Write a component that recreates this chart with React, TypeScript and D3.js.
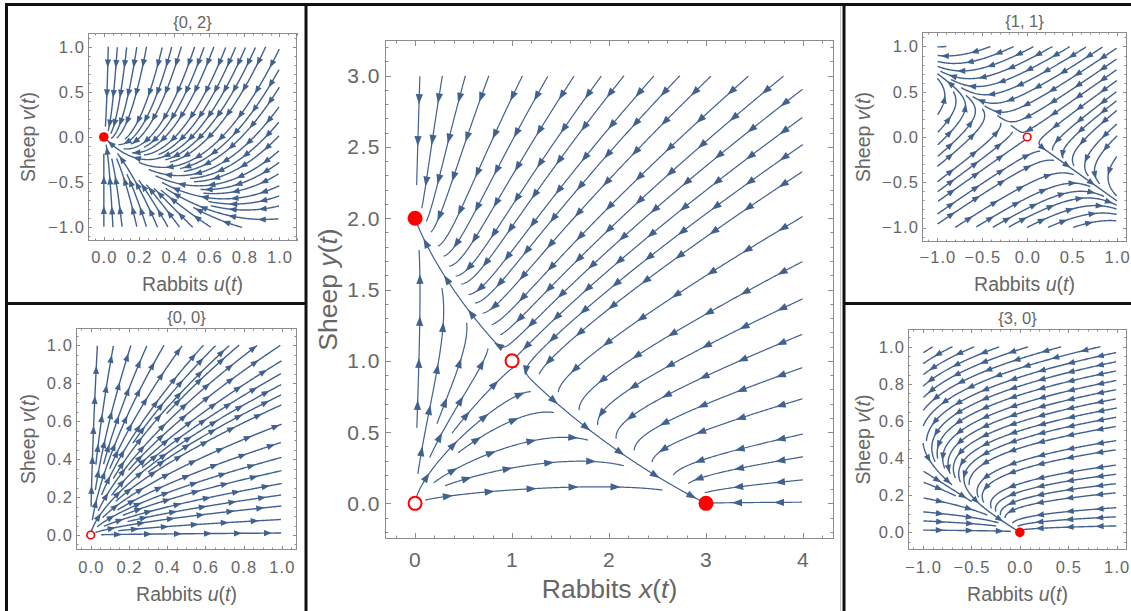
import React, { useRef, useEffect } from 'react';
import * as d3 from 'd3';

// competition model: x' = x (a0 - a1 x - a2 y),  y' = y (b0 - b1 x - b2 y)
const rabbitCoef = [3, 1, 2];
const sheepCoef = [2, 1, 1];

// linearised systems (Jacobian) at each equilibrium
const jacobian02 = [[-1, 0], [-2, -2]];
const jacobian00 = [[3, 0], [0, 2]];
const jacobian11 = [[-1, -2], [-1, -1]];
const jacobian30 = [[-3, -6], [0, -1]];

const equilibria = [[0, 0], [0, 2], [1, 1], [3, 0]];
const equilibriumStable = [false, true, false, true];

const mainXTicks = [0, 1, 2, 3, 4];
const mainYTicks = [0, 0.5, 1, 1.5, 2, 2.5, 3];
const unitTicks = [0, 0.2, 0.4, 0.6, 0.8, 1];
const symTicks = [-1, -0.5, 0, 0.5, 1];
const panelTitles = ['{0, 2}', '{0, 0}', '{1, 1}', '{3, 0}'];

const STREAM = '#41618f';
const TEXT = '#666666';
const FONT = "'Liberation Sans', Arial, sans-serif";

type Field = (u: number, v: number) => number[];

const model: Field = (x, y) => [
    x * (rabbitCoef[0] - rabbitCoef[1] * x - rabbitCoef[2] * y),
    y * (sheepCoef[0] - sheepCoef[1] * x - sheepCoef[2] * y),
];
const linear = (J: number[][]): Field => (u, v) => [
    J[0][0] * u + J[0][1] * v,
    J[1][0] * u + J[1][1] * v,
];

// evenly spaced streamlines (Jobard-Lefer style), worked out in pixel space
function buildStreams(field: Field, xs: any, ys: any, region: number[][], dSep: number, sinkData: number[][], sinkR: number, minLen: number) {
    const dTest = dSep * 0.4;
    const h = 1;
    const kx = xs(1) - xs(0);
    const ky = ys(0) - ys(1);
    const bx0 = xs(region[0][0]), bx1 = xs(region[0][1]);
    const by0 = ys(region[1][1]), by1 = ys(region[1][0]);
    const sinks = sinkData.map(s => [xs(s[0]), ys(s[1])]);
    const cell = dSep;
    const grid = new Map<number, number[][]>();
    const add = (x: number, y: number, id: number) => {
        const k = Math.floor(x / cell) * 4096 + Math.floor(y / cell);
        let a = grid.get(k);
        if (!a) { a = []; grid.set(k, a); }
        a.push([x, y, id]);
    };
    const near = (x: number, y: number, r: number, id: number) => {
        const gi = Math.floor(x / cell), gj = Math.floor(y / cell);
        const n = Math.ceil(r / cell);
        for (let i = gi - n; i <= gi + n; i++) {
            for (let j = gj - n; j <= gj + n; j++) {
                const a = grid.get(i * 4096 + j);
                if (!a) continue;
                for (const q of a) {
                    if (q[2] !== id && (q[0] - x) ** 2 + (q[1] - y) ** 2 < r * r) return true;
                }
            }
        }
        return false;
    };
    const inside = (x: number, y: number) => x >= bx0 && x <= bx1 && y >= by0 && y <= by1;
    const dir = (x: number, y: number) => {
        const f = field(xs.invert(x), ys.invert(y));
        const vx = f[0] * kx, vy = -f[1] * ky;
        const m = Math.hypot(vx, vy);
        return m < 1e-10 ? null : [vx / m, vy / m];
    };
    const atSink = (x: number, y: number, r: number) => sinks.some(s => Math.hypot(x - s[0], y - s[1]) < r);

    const half = (sx: number, sy: number, sign: number, id: number) => {
        const out: number[][] = [];
        let x = sx, y = sy;
        const s = sign * h;
        for (let n = 0; n < 3000; n++) {
            const k1 = dir(x, y); if (!k1) break;
            const k2 = dir(x + s / 2 * k1[0], y + s / 2 * k1[1]); if (!k2) break;
            const k3 = dir(x + s / 2 * k2[0], y + s / 2 * k2[1]); if (!k3) break;
            const k4 = dir(x + s * k3[0], y + s * k3[1]); if (!k4) break;
            if (k1[0] * k4[0] + k1[1] * k4[1] < 0) break;
            const nx = x + s / 6 * (k1[0] + 2 * k2[0] + 2 * k3[0] + k4[0]);
            const ny = y + s / 6 * (k1[1] + 2 * k2[1] + 2 * k3[1] + k4[1]);
            if (!inside(nx, ny)) break;
            if (atSink(nx, ny, sinkR) || near(nx, ny, dTest, id)) break;
            out.push([nx, ny]);
            x = nx; y = ny;
        }
        return out;
    };

    const lines: number[][][] = [];
    const queue: number[][][] = [];
    const trace = (sx: number, sy: number) => {
        const id = lines.length;
        const back = half(sx, sy, -1, id);
        const fwd = half(sx, sy, 1, id);
        const pts = back.reverse().concat([[sx, sy]], fwd);
        if (pts.length * h < minLen) return false;
        pts.forEach(p => add(p[0], p[1], id));
        lines.push(pts);
        queue.push(pts);
        return true;
    };
    const trySeed = (x: number, y: number) => {
        if (!inside(x, y) || atSink(x, y, dSep * 0.5) || near(x, y, dSep, -1)) return;
        trace(x, y);
    };
    const drain = () => {
        while (queue.length) {
            const pts = queue.shift()!;
            for (let i = 2; i < pts.length - 2; i += 3) {
                const tx = pts[i + 1][0] - pts[i - 1][0], ty = pts[i + 1][1] - pts[i - 1][1];
                const m = Math.hypot(tx, ty) || 1;
                const nx = -ty / m, ny = tx / m;
                trySeed(pts[i][0] + nx * dSep, pts[i][1] + ny * dSep);
                trySeed(pts[i][0] - nx * dSep, pts[i][1] - ny * dSep);
            }
        }
    };
    trySeed((bx0 + bx1) / 2, (by0 + by1) / 2);
    drain();
    for (let y = by0; y <= by1; y += dSep / 2) {
        for (let x = bx0; x <= bx1; x += dSep / 2) {
            trySeed(x, y);
            drain();
        }
    }
    return lines;
}

function arrowHeads(pts: number[][], gap: number, len: number, hw: number) {
    const cum = [0];
    for (let i = 1; i < pts.length; i++) {
        cum.push(cum[i - 1] + Math.hypot(pts[i][0] - pts[i - 1][0], pts[i][1] - pts[i - 1][1]));
    }
    const total = cum[cum.length - 1];
    const out: number[][][] = [];
    if (total < len * 1.6) return out;
    let next = Math.min(gap * 0.5, total / 2);
    for (let i = 1; i < pts.length; i++) {
        if (cum[i] < next) continue;
        if (total - cum[i] < len * 0.6) break;
        const a = pts[Math.max(0, i - 3)], b = pts[Math.min(pts.length - 1, i + 3)];
        const m = Math.hypot(b[0] - a[0], b[1] - a[1]) || 1;
        const tx = (b[0] - a[0]) / m, ty = (b[1] - a[1]) / m;
        const p = pts[i];
        const tip = [p[0] + tx * len * 0.6, p[1] + ty * len * 0.6];
        const base = [p[0] - tx * len * 0.4, p[1] - ty * len * 0.4];
        out.push([tip, [base[0] - ty * hw, base[1] + tx * hw], [base[0] + ty * hw, base[1] - tx * hw]]);
        next += gap;
    }
    return out;
}

const panels = [
    {
        title: null, field: model, box: [385, 40, 834, 539], xDom: [-0.31, 4.32], yDom: [-0.25, 3.25],
        region: [[0, 4], [0, 3]], xTicks: mainXTicks, yTicks: mainYTicks, xFmt: d3.format('d'), yFmt: d3.format('.1f'),
        xMinor: 0.2, yMinor: 0.1, pts: equilibria, stable: equilibriumStable, xVar: 'x', yVar: 'y', big: true,
        xTickY: 567, xLabelY: 598, yLabelX: 327, dSep: 22, gap: 42,
    },
    {
        title: panelTitles[0], field: linear(jacobian02), box: [88, 33, 297, 241], xDom: [-0.09, 1.1], yDom: [-1.15, 1.15],
        region: [[0, 1], [-1, 1]], xTicks: unitTicks, yTicks: symTicks, xFmt: d3.format('.1f'), yFmt: d3.format('.1f'),
        xMinor: 0.05, yMinor: 0.1, pts: [[0, 0]], stable: [true], xVar: 'u', yVar: 'v', big: false,
        xTickY: 263, xLabelY: 291, yLabelX: 28, dSep: 9, gap: 30,
    },
    {
        title: panelTitles[1], field: linear(jacobian00), box: [76, 328, 297, 550], xDom: [-0.077, 1.08], yDom: [-0.079, 1.09],
        region: [[0, 1], [0, 1]], xTicks: unitTicks, yTicks: unitTicks, xFmt: d3.format('.1f'), yFmt: d3.format('.1f'),
        xMinor: 0.05, yMinor: 0.05, pts: [[0, 0]], stable: [false], xVar: 'u', yVar: 'v', big: false,
        xTickY: 573, xLabelY: 601, yLabelX: 28, dSep: 9, gap: 30,
    },
    {
        title: panelTitles[2], field: linear(jacobian11), box: [922, 32, 1127, 242], xDom: [-1.17, 1.11], yDom: [-1.16, 1.16],
        region: [[-1, 1], [-1, 1]], xTicks: symTicks, yTicks: symTicks, xFmt: d3.format('.1f'), yFmt: d3.format('.1f'),
        xMinor: 0.1, yMinor: 0.1, pts: [[0, 0]], stable: [false], xVar: 'u', yVar: 'v', big: false,
        xTickY: 263, xLabelY: 291, yLabelX: 863, dSep: 9, gap: 30,
    },
    {
        title: panelTitles[3], field: linear(jacobian30), box: [908, 329, 1127, 550], xDom: [-1.155, 1.107], yDom: [-0.095, 1.095],
        region: [[-1, 1], [0, 1]], xTicks: symTicks, yTicks: unitTicks, xFmt: d3.format('.1f'), yFmt: d3.format('.1f'),
        xMinor: 0.1, yMinor: 0.05, pts: [[0, 0]], stable: [true], xVar: 'u', yVar: 'v', big: false,
        xTickY: 573, xLabelY: 601, yLabelX: 863, dSep: 9, gap: 30,
    },
];

const minorTicks = (dom: number[], step: number, major: number[]) =>
    d3.range(Math.ceil(dom[0] / step - 1e-6), Math.floor(dom[1] / step + 1e-6) + 1)
        .map(k => +(k * step).toFixed(4))
        .filter(v => !major.some(m => Math.abs(m - v) < 1e-6));

const App = () => {
    const ref = useRef<SVGSVGElement>(null);

    useEffect(() => {
        const svg = d3.select(ref.current);
        svg.selectAll('*').remove();

        panels.forEach((p, pi) => {
            const [x0, y0, x1, y1] = p.box;
            const xs = d3.scaleLinear().domain(p.xDom).range([x0, x1]);
            const ys = d3.scaleLinear().domain(p.yDom).range([y1, y0]);
            const g = svg.append('g');
            const tickSize = p.big ? 21 : 16.5;
            const labelSize = p.big ? 26.5 : 19.5;
            const majLen = p.big ? 6 : 4;
            const minLen = p.big ? 3.5 : 2.5;

            // stream lines
            const clipId = 'clip' + pi;
            g.append('clipPath').attr('id', clipId)
                .append('rect').attr('x', x0).attr('y', y0).attr('width', x1 - x0).attr('height', y1 - y0);
            const lines = buildStreams(p.field, xs, ys, p.region, p.dSep, p.pts, p.big ? 5 : 3, p.big ? 10 : 6);
            const sg = g.append('g').attr('clip-path', `url(#${clipId})`);
            const lineGen = d3.line();
            sg.selectAll('path.s').data(lines).enter().append('path')
                .attr('class', 's')
                .attr('d', d => lineGen(d as any))
                .attr('fill', 'none')
                .attr('stroke', STREAM)
                .attr('stroke-width', p.big ? 1.2 : 1.4);
            const heads = lines.flatMap(l => arrowHeads(l, p.gap, p.big ? 10 : 8, p.big ? 3.6 : 3.1));
            sg.selectAll('path.a').data(heads).enter().append('path')
                .attr('class', 'a')
                .attr('d', d => 'M' + d.map(q => q.join(',')).join('L') + 'Z')
                .attr('fill', STREAM);

            // equilibria
            p.pts.forEach((q, i) => {
                const r = p.big ? 7.5 : 4.8;
                g.append('circle')
                    .attr('cx', xs(q[0])).attr('cy', ys(q[1]))
                    .attr('r', p.stable[i] ? r : r - 1)
                    .attr('fill', p.stable[i] ? '#ff0000' : '#ffffff')
                    .attr('stroke', p.stable[i] ? 'none' : '#ff0000')
                    .attr('stroke-width', p.big ? 2 : 1.6);
            });

            // frame and ticks
            g.append('rect').attr('x', x0 + 0.5).attr('y', y0 + 0.5).attr('width', x1 - x0 - 1).attr('height', y1 - y0 - 1)
                .attr('fill', 'none').attr('stroke', '#8c8c8c').attr('stroke-width', 1);
            const tk = g.append('g').attr('stroke', '#8c8c8c').attr('stroke-width', 1);
            const xMin = minorTicks(p.xDom, p.xMinor, p.xTicks);
            const yMin = minorTicks(p.yDom, p.yMinor, p.yTicks);
            const vTicks = [...p.xTicks.map(v => [v, majLen]), ...xMin.map(v => [v, minLen])];
            const hTicks = [...p.yTicks.map(v => [v, majLen]), ...yMin.map(v => [v, minLen])];
            vTicks.forEach(([v, l]) => {
                const x = Math.round(xs(v)) + 0.5;
                tk.append('line').attr('x1', x).attr('x2', x).attr('y1', y1).attr('y2', y1 - l);
                tk.append('line').attr('x1', x).attr('x2', x).attr('y1', y0).attr('y2', y0 + l);
            });
            hTicks.forEach(([v, l]) => {
                const y = Math.round(ys(v)) + 0.5;
                tk.append('line').attr('y1', y).attr('y2', y).attr('x1', x0).attr('x2', x0 + l);
                tk.append('line').attr('y1', y).attr('y2', y).attr('x1', x1).attr('x2', x1 - l);
            });

            const txt = g.append('g').attr('font-family', FONT).attr('fill', TEXT);
            p.xTicks.forEach(v => {
                txt.append('text').attr('x', xs(v) + 0.6).attr('y', p.xTickY)
                    .attr('text-anchor', 'middle').attr('font-size', tickSize)
                    .attr('letter-spacing', p.big ? 1.5 : 1.1)
                    .text(p.xFmt(v));
            });
            p.yTicks.forEach(v => {
                txt.append('text').attr('x', x0 - (p.big ? 4 : 3)).attr('y', ys(v)).attr('dy', '0.36em')
                    .attr('text-anchor', 'end').attr('font-size', tickSize)
                    .attr('letter-spacing', p.big ? 1.5 : 1.1)
                    .text(p.yFmt(v));
            });

            const xl = txt.append('text').attr('x', (x0 + x1) / 2).attr('y', p.xLabelY)
                .attr('text-anchor', 'middle').attr('font-size', labelSize);
            xl.append('tspan').text('Rabbits ');
            xl.append('tspan').attr('font-style', 'italic').text(p.xVar);
            xl.append('tspan').text('(');
            xl.append('tspan').attr('font-style', 'italic').text('t');
            xl.append('tspan').text(')');

            const yl = txt.append('text')
                .attr('transform', `translate(${p.yLabelX},${(y0 + y1) / 2}) rotate(-90)`)
                .attr('dy', '0.36em')
                .attr('text-anchor', 'middle').attr('font-size', labelSize);
            yl.append('tspan').text('Sheep ');
            yl.append('tspan').attr('font-style', 'italic').text(p.yVar);
            yl.append('tspan').text('(');
            yl.append('tspan').attr('font-style', 'italic').text('t');
            yl.append('tspan').text(')');

            if (p.title) {
                txt.append('text').attr('x', (x0 + x1) / 2).attr('y', y0 - 5)
                    .attr('text-anchor', 'middle').attr('font-size', 16.5)
                    .text(p.title);
            }
        });

        // grid of black borders round the panels
        const b = svg.append('g').attr('stroke', '#111').attr('stroke-width', 3).attr('fill', 'none');
        b.append('line').attr('x1', 5).attr('x2', 1131).attr('y1', 4.5).attr('y2', 4.5);
        b.append('line').attr('x1', 6.5).attr('x2', 6.5).attr('y1', 3).attr('y2', 611);
        b.append('line').attr('x1', 306).attr('x2', 306).attr('y1', 3).attr('y2', 611);
        b.append('line').attr('x1', 844).attr('x2', 844).attr('y1', 3).attr('y2', 611);
        b.append('line').attr('x1', 5).attr('x2', 306).attr('y1', 303.5).attr('y2', 303.5);
        b.append('line').attr('x1', 844).attr('x2', 1131).attr('y1', 303.5).attr('y2', 303.5);
        svg.append('line').attr('x1', 840.5).attr('x2', 840.5).attr('y1', 6).attr('y2', 611)
            .attr('stroke', '#c8c8c8').attr('stroke-width', 1);
    }, []);

    return (
        <svg ref={ref} width={1131} height={611}
            style={{ position: 'absolute', left: 0, top: 0, background: '#fff', display: 'block' }} />
    );
};

export default App;
